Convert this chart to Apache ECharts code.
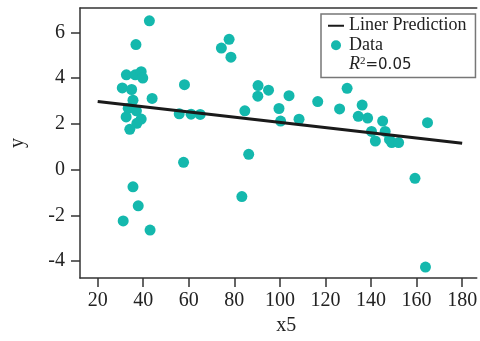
<!DOCTYPE html>
<html>
<head>
<meta charset="utf-8">
<script src="https://cdn.jsdelivr.net/npm/echarts@6/dist/echarts.min.js"></script>
<style>html,body{margin:0;padding:0;background:#fff}#c{width:480px;height:341px}</style>
</head>
<body>
<div id="c"></div>
<script>
// Scatter data: x5 values and y values
var dataX = [42.7,36.8,32.6,36.5,39.1,39.8,30.8,34.9,35.5,43.9,33.4,37.0,32.5,39.1,37.2,34.1,
  58.1,55.8,61.0,65.0,57.7,35.5,37.8,31.2,43.0,
  77.7,74.3,78.5,90.4,95.0,90.3,104.0,116.6,84.6,99.6,100.3,108.4,86.3,83.3,
  129.5,126.2,136.1,134.4,138.5,145.1,140.2,141.9,146.2,148.1,149.1,152.1,164.8,159.3,163.9];
var dataY = [6.50,5.46,4.14,4.14,4.28,4.00,3.57,3.50,3.03,3.11,2.68,2.57,2.30,2.21,2.02,1.76,
  3.71,2.44,2.42,2.41,0.32,-0.75,-1.58,-2.24,-2.64,
  5.69,5.31,4.91,3.67,3.47,3.21,3.23,2.97,2.57,2.67,2.12,2.20,0.67,-1.18,
  3.55,2.65,2.82,2.33,2.25,2.12,1.67,1.25,1.67,1.32,1.18,1.18,2.05,-0.38,-4.26];
// Linear prediction endpoints
var lineX = [20, 180];
var lineY = [2.98, 1.15];
var xTicks = [20,40,60,80,100,120,140,160,180];
var yTicks = [-4,-2,0,2,4,6];
var r2Text = '0.05';

var FONT = 'Liberation Serif';
var scatterData = dataX.map(function(x,i){return [x, dataY[i]];});
var lineData = lineX.map(function(x,i){return [x, lineY[i]];});

var chart = echarts.init(document.getElementById('c'), null, {renderer:'canvas'});
var axisCol = '#333';
chart.setOption({
  animation: false,
  backgroundColor: '#fff',
  grid: {left: 76, right: 0, top: 8, bottom: 58, containLabel: false},
  xAxis: [{
    type: 'value', min: 12.24, max: 186.4,
    axisLine: {show: true, onZero: false, lineStyle: {color: axisCol, width: 1.5}},
    axisTick: {show: true, length: 9, customValues: xTicks, lineStyle: {color: axisCol, width: 1.5}},
    axisLabel: {customValues: xTicks, color: '#222', fontFamily: FONT, fontSize: 20, margin: 13},
    splitLine: {show: false},
    name: 'x5', nameLocation: 'middle', nameGap: 34,
    nameTextStyle: {color: '#222', fontFamily: FONT, fontSize: 20, padding: [0,0,0,16]}
  }, {
    type: 'value', min: 12.24, max: 186.4, position: 'top',
    axisLine: {show: true, onZero: false, lineStyle: {color: axisCol, width: 1.5}},
    axisTick: {show: false}, axisLabel: {show: false}, splitLine: {show: false}
  }],
  yAxis: {
    type: 'value', min: -4.74, max: 7.06,
    axisLine: {show: true, onZero: false, lineStyle: {color: axisCol, width: 1.5}},
    axisTick: {show: true, length: 9, customValues: yTicks, lineStyle: {color: axisCol, width: 1.5}},
    axisLabel: {customValues: yTicks, color: '#222', fontFamily: FONT, fontSize: 20, margin: 15},
    splitLine: {show: false},
    name: 'y', nameLocation: 'middle', nameGap: 52,
    nameTextStyle: {color: '#222', fontFamily: FONT, fontSize: 20, padding: [0,0,0,0]}
  },
  legend: {
    orient: 'vertical', left: 321, top: 14,
    backgroundColor: '#fff',
    borderColor: '#777', borderWidth: 1.5, borderRadius: 0,
    padding: [2, 9, 3, 6],
    itemGap: 0, itemWidth: 16, itemHeight: 10,
    textStyle: {color: '#222', fontFamily: FONT, fontSize: 18, lineHeight: 19.5,
      rich: {
        i: {fontFamily: FONT, fontStyle: 'italic', fontSize: 18, color: '#222'},
        s: {fontFamily: FONT, fontSize: 11, color: '#222', padding: [0,0,8,0]},
        n: {fontFamily: 'DejaVu Sans', fontSize: 15, color: '#222'}
      }},
    formatter: function(name){
      if (name === 'R2') return '{i|R}{s|2}{n|=' + r2Text + '}';
      return name;
    },
    data: [
      {name: 'Liner Prediction', itemStyle: {opacity: 0}, lineStyle: {width: 2, opacity: 1}},
      {name: 'Data', icon: 'circle'},
      {name: 'R2', icon: 'none', itemStyle: {color: 'rgba(0,0,0,0)'}}
    ]
  },
  series: [{
    name: 'Liner Prediction', type: 'line', data: lineData,
    symbol: 'none', lineStyle: {color: '#1a1a1a', width: 3}, itemStyle: {color: '#1a1a1a'},
    z: 3
  }, {
    name: 'Data', type: 'scatter', data: scatterData,
    symbolSize: 11, itemStyle: {color: '#14b8ad', opacity: 1}, z: 2
  }, {
    name: 'R2', type: 'scatter', data: []
  }]
});
</script>
</body>
</html>
